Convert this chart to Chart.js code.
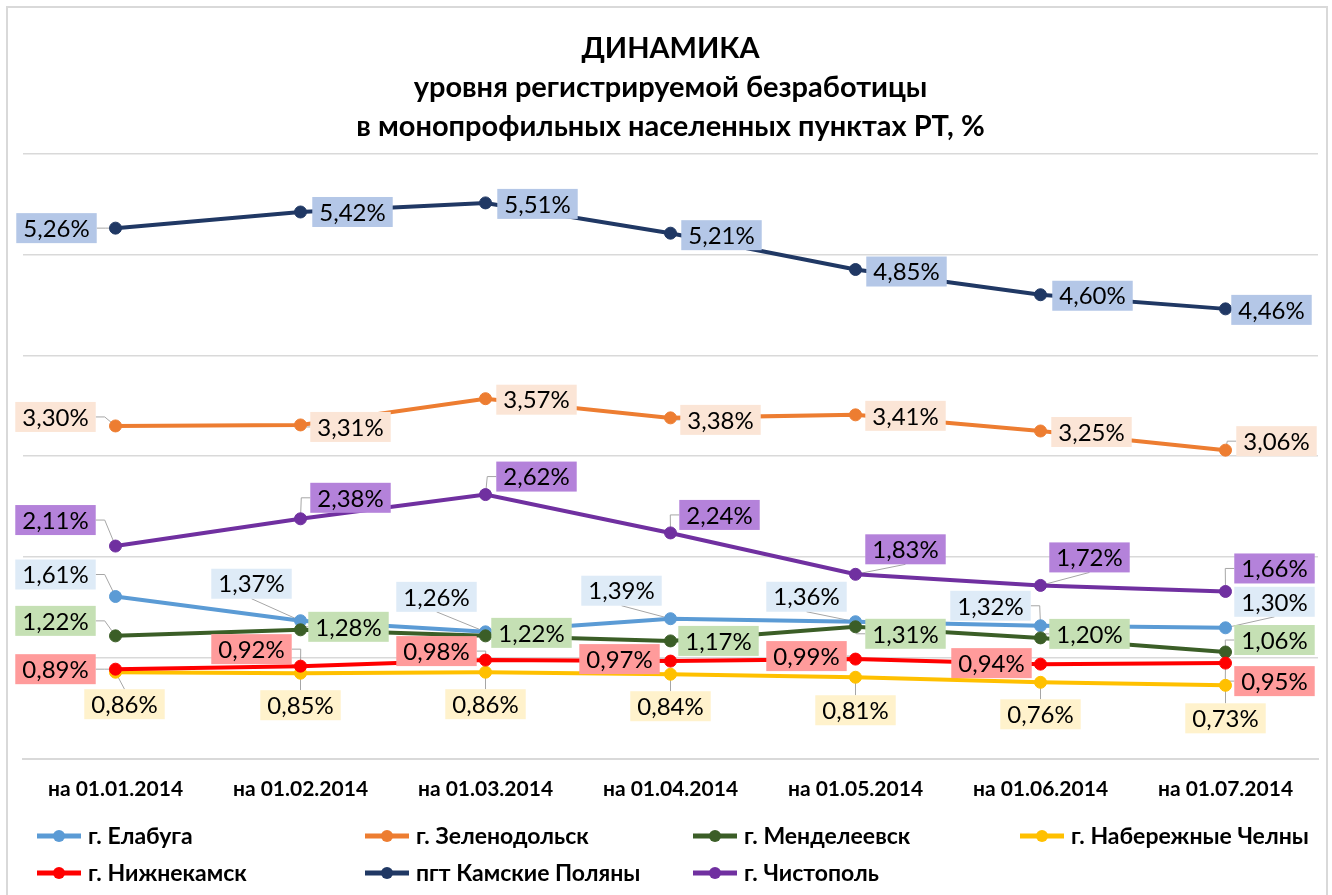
<!DOCTYPE html>
<html>
<head>
<meta charset="utf-8">
<script src="https://cdn.jsdelivr.net/npm/chart.js@4.4.1/dist/chart.umd.min.js"></script>
<style>
  html, body { margin: 0; padding: 0; background: #fff; }
  #wrap { width: 1332px; height: 895px; position: relative; }
</style>
</head>
<body>
<div id="wrap"><canvas id="chart" width="1332" height="895"></canvas></div>
<script>
// категории и ряды
const dates = ['на 01.01.2014', 'на 01.02.2014', 'на 01.03.2014', 'на 01.04.2014', 'на 01.05.2014', 'на 01.06.2014', 'на 01.07.2014'];
const elabuga = [1.61, 1.37, 1.26, 1.39, 1.36, 1.32, 1.30];
const zelenodolsk = [3.30, 3.31, 3.57, 3.38, 3.41, 3.25, 3.06];
const mendeleevsk = [1.22, 1.28, 1.22, 1.17, 1.31, 1.20, 1.06];
const chelny = [0.86, 0.85, 0.86, 0.84, 0.81, 0.76, 0.73];
const nizhnekamsk = [0.89, 0.92, 0.98, 0.97, 0.99, 0.94, 0.95];
const kamskiePolyany = [5.26, 5.42, 5.51, 5.21, 4.85, 4.60, 4.46];
const chistopol = [2.11, 2.38, 2.62, 2.24, 1.83, 1.72, 1.66];

const FONT = 'Lato, "Open Sans", sans-serif';

// смещения подписей данных (dx, dy от точки)
const series = [
  { name: 'г. Елабуга', data: elabuga, color: '#5B9BD5', box: '#DEEBF7',
    pos: [[-60,-22],[-49,-37],[-49,-35],[-49,-28],[-49,-25],[-50,-20],[49,-26]] },
  { name: 'г. Зеленодольск', data: zelenodolsk, color: '#ED7D31', box: '#FBE5D6',
    pos: [[-60,-9],[50,2],[51,1],[50,2],[50,1],[51,1],[51,-9]] },
  { name: 'г. Менделеевск', data: mendeleevsk, color: '#3B5E27', box: '#C5E0B4',
    pos: [[-60,-15],[48,-3],[46,-3],[48,0],[50,7],[49,-4],[49,-12]] },
  { name: 'г. Набережные Челны', data: chelny, color: '#FFC000', box: '#FFF2CC',
    pos: [[9,32],[0,32],[0,32],[0,32],[0,33],[0,32],[0,33]] },
  { name: 'г. Нижнекамск', data: nizhnekamsk, color: '#FF0000', box: '#FF9B9B',
    pos: [[-60,0],[-49,-17],[-49,-9],[-51,-2],[-49,-3],[-49,-1],[49,18]] },
  { name: 'пгт Камские Поляны', data: kamskiePolyany, color: '#203864', box: '#B4C7E7',
    pos: [[-59,0],[52,0],[52,1],[51,2],[51,2],[52,1],[46,1]] },
  { name: 'г. Чистополь', data: chistopol, color: '#7030A0', box: '#B482DA',
    pos: [[-60,-26],[50,-21],[51,-18],[49,-18],[50,-25],[49,-28],[49,-23]] }
];

function fmt(v) {
  return v.toFixed(2).replace('.', ',') + '%';
}

function labelBoxes(chart) {
  const ctx = chart.ctx;
  ctx.font = '24px ' + FONT;
  const out = [];
  chart.data.datasets.forEach((ds, di) => {
    const meta = chart.getDatasetMeta(di);
    meta.data.forEach((pt, i) => {
      const [dx, dy] = series[di].pos[i];
      const txt = fmt(ds.data[i]);
      const w = ctx.measureText(txt).width + 14;
      const h = 30;
      const cx = pt.x + dx, cy = pt.y + dy;
      out.push({ di, txt, px: pt.x, py: pt.y, cx, cy, w, h,
        l: cx - w / 2, r: cx + w / 2, t: cy - h / 2, b: cy + h / 2 });
    });
  });
  return out;
}

const labelsPlugin = {
  id: 'excelLabels',
  beforeDatasetsDraw(chart) {
    const ctx = chart.ctx;
    ctx.save();
    ctx.strokeStyle = '#A6A6A6';
    ctx.lineWidth = 1;
    labelBoxes(chart).forEach(b => {
      let hgap = 0, vgap = 0;
      if (b.px > b.r) hgap = b.px - b.r; else if (b.px < b.l) hgap = b.l - b.px;
      if (b.py > b.b) vgap = b.py - b.b; else if (b.py < b.t) vgap = b.t - b.py;
      if (hgap < 3 && vgap < 3) return;
      ctx.beginPath();
      if (vgap > hgap) {
        const ay = b.py > b.b ? b.b : b.t;
        ctx.moveTo(b.cx, ay);
      } else {
        const ax = b.px > b.r ? b.r : b.l;
        const s = b.px > b.r ? 9 : -9;
        ctx.moveTo(ax, b.cy);
        ctx.lineTo(ax + s, b.cy);
      }
      ctx.lineTo(b.px, b.py);
      ctx.stroke();
    });
    ctx.restore();
  },
  afterDatasetsDraw(chart) {
    const ctx = chart.ctx;
    ctx.save();
    ctx.font = '24px ' + FONT;
    ctx.textAlign = 'center';
    ctx.textBaseline = 'middle';
    labelBoxes(chart).forEach(b => {
      ctx.fillStyle = series[b.di].box;
      ctx.fillRect(b.l, b.t, b.w, b.h);
      ctx.fillStyle = '#000';
      ctx.fillText(b.txt, b.cx, b.cy + 1);
    });
    ctx.restore();
  },
  afterDraw(chart) {
    const ctx = chart.ctx;
    ctx.save();
    // рамка диаграммы
    ctx.strokeStyle = '#D9D9D9';
    ctx.lineWidth = 2;
    ctx.strokeRect(7, 7, 1320, 900);
    // легенда
    const cols = [37, 365, 693, 1020];
    const rows = [836, 873];
    ctx.font = 'bold 23px ' + FONT;
    ctx.textBaseline = 'middle';
    ctx.textAlign = 'left';
    series.forEach((s, i) => {
      const x = cols[i % 4], y = rows[Math.floor(i / 4)];
      ctx.strokeStyle = s.color;
      ctx.lineWidth = 5;
      ctx.beginPath();
      ctx.moveTo(x, y);
      ctx.lineTo(x + 44, y);
      ctx.stroke();
      ctx.fillStyle = s.color;
      ctx.beginPath();
      ctx.arc(x + 22, y, 6, 0, Math.PI * 2);
      ctx.fill();
      ctx.fillStyle = '#000';
      ctx.fillText(s.name, x + 51, y + 1);
    });
    ctx.restore();
  }
};

new Chart(document.getElementById('chart').getContext('2d'), {
  type: 'line',
  data: {
    labels: dates,
    datasets: series.map((s, i) => ({
      label: s.name,
      data: s.data,
      borderColor: s.color,
      backgroundColor: s.color,
      borderWidth: 4,
      pointRadius: 6,
      pointBorderWidth: 1,
      pointBackgroundColor: s.color,
      pointBorderColor: s.color,
      tension: 0,
      fill: false,
      order: -i
    }))
  },
  options: {
    responsive: false,
    animation: false,
    devicePixelRatio: 1,
    layout: { padding: { left: 23, right: 14, top: 0, bottom: 0 } },
    plugins: {
      legend: { display: false },
      tooltip: { enabled: false },
      title: {
        display: true,
        text: ['ДИНАМИКА', 'уровня регистрируемой безработицы', 'в монопрофильных населенных пунктах РТ, %'],
        color: '#000',
        font: { family: FONT, size: 29, weight: 'bold', lineHeight: 1.35 },
        padding: { top: 29, bottom: 7 }
      }
    },
    scales: {
      x: {
        offset: true,
        grid: { display: false, drawTicks: false },
        border: { display: true, color: '#D9D9D9', width: 2 },
        ticks: { color: '#000', font: { family: FONT, size: 21, weight: 'bold' }, padding: 18, maxRotation: 0, autoSkip: false },
        afterFit(scale) { scale.height = 136; }
      },
      y: {
        min: 0,
        max: 6,
        ticks: { display: false, stepSize: 1 },
        grid: { color: '#D9D9D9', lineWidth: 1.5, drawTicks: false },
        border: { display: false },
        afterFit(scale) { scale.width = 0; }
      }
    }
  },
  plugins: [labelsPlugin]
});
</script>
</body>
</html>
